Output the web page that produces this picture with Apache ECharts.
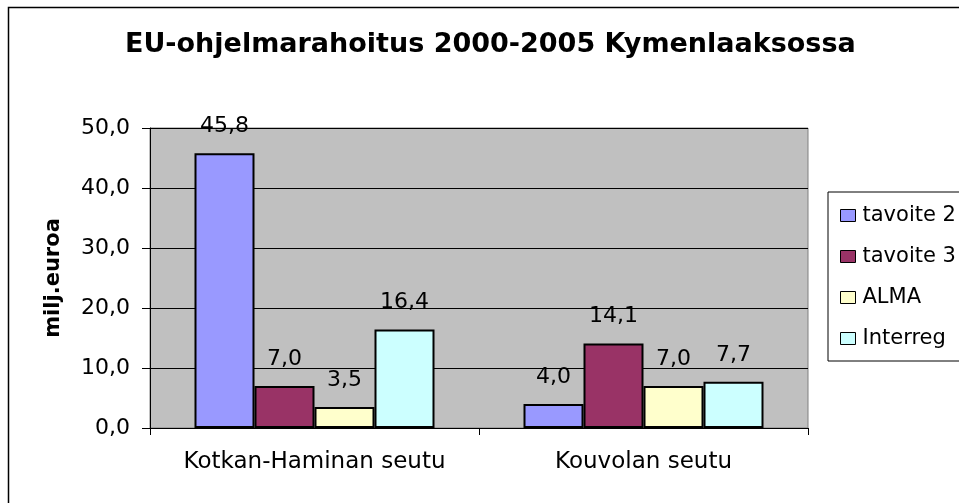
<!DOCTYPE html>
<html>
<head>
<meta charset="utf-8">
<script src="https://cdn.jsdelivr.net/npm/echarts@6/dist/echarts.min.js"></script>
<style>
html,body{margin:0;padding:0;background:#fff;}
#chart{width:959px;height:503px;}
</style>
</head>
<body>
<div id="chart"></div>
<script>
const categories = ['Kotkan-Haminan seutu', 'Kouvolan seutu'];
const seriesNames = ['tavoite 2', 'tavoite 3', 'ALMA', 'Interreg'];
const tavoite2 = [45.8, 4.0];
const tavoite3 = [7.0, 14.1];
const alma = [3.5, 7.0];
const interreg = [16.4, 7.7];
const yTicks = [0, 10, 20, 30, 40, 50];

const colors = ['#9999FF', '#993366', '#FFFFCC', '#CCFFFF'];
const dataSets = [tavoite2, tavoite3, alma, interreg];
const FONT = 'DejaVu Sans';
const fmt = v => Number(v).toFixed(1).replace('.', ',');

const chart = echarts.init(document.getElementById('chart'), null, {renderer: 'canvas'});
chart.setOption({
  backgroundColor: '#ffffff',
  animation: false,
  title: {
    text: 'EU-ohjelmarahoitus 2000-2005 Kymenlaaksossa',
    left: 125, top: 31, padding: 0,
    textStyle: {fontFamily: FONT, fontWeight: 'bold', fontSize: 27, color: '#000'}
  },
  legend: {
    orient: 'vertical',
    left: 828, top: 192,
    padding: [11, 40, 10, 12],
    borderColor: '#000', borderWidth: 1,
    itemWidth: 15, itemHeight: 12, itemGap: 16,
    icon: 'rect',
    itemStyle: {borderColor: '#000', borderWidth: 1},
    textStyle: {fontFamily: FONT, fontSize: 21, color: '#000', lineHeight: 25, padding: [0,0,0,2]},
    data: seriesNames
  },
  grid: {
    left: 150, right: 151, top: 128, bottom: 75,
    show: true, backgroundColor: '#C0C0C0', borderColor: '#808080', borderWidth: 1
  },
  xAxis: {
    type: 'category',
    data: categories,
    axisLine: {show: true, lineStyle: {color: '#000', width: 1}},
    axisTick: {show: true, length: 7, lineStyle: {color: '#000'}},
    axisLabel: {fontFamily: FONT, fontSize: 23, color: '#000', margin: 23, interval: 0, hideOverlap: false}
  },
  yAxis: {
    type: 'value',
    min: yTicks[0], max: yTicks[yTicks.length - 1], interval: 10,
    name: 'milj.euroa',
    nameLocation: 'middle', nameRotate: 90, nameGap: 86,
    nameTextStyle: {fontFamily: FONT, fontWeight: 'bold', fontSize: 21, color: '#000'},
    axisLine: {show: true, lineStyle: {color: '#000', width: 1}},
    axisTick: {show: true, length: 8, lineStyle: {color: '#000'}},
    axisLabel: {fontFamily: FONT, fontSize: 22, color: '#000', margin: 20, formatter: fmt},
    splitLine: {show: true, lineStyle: {color: '#000', width: 1}}
  },
  graphic: [{
    type: 'rect', silent: true, z: 100,
    shape: {x: 8.5, y: 7.5, width: 1000, height: 600},
    style: {fill: 'none', stroke: '#000', lineWidth: 1.5}
  }],
  series: seriesNames.map((n, i) => ({
    name: n,
    type: 'bar',
    data: dataSets[i],
    barWidth: 60,
    barGap: '0%',
    itemStyle: {color: colors[i], borderColor: '#000', borderWidth: 2},
    label: {
      show: true, position: 'top', distance: 16,
      fontFamily: FONT, fontSize: 22, color: '#000',
      formatter: p => fmt(p.value)
    }
  }))
});
</script>
</body>
</html>
